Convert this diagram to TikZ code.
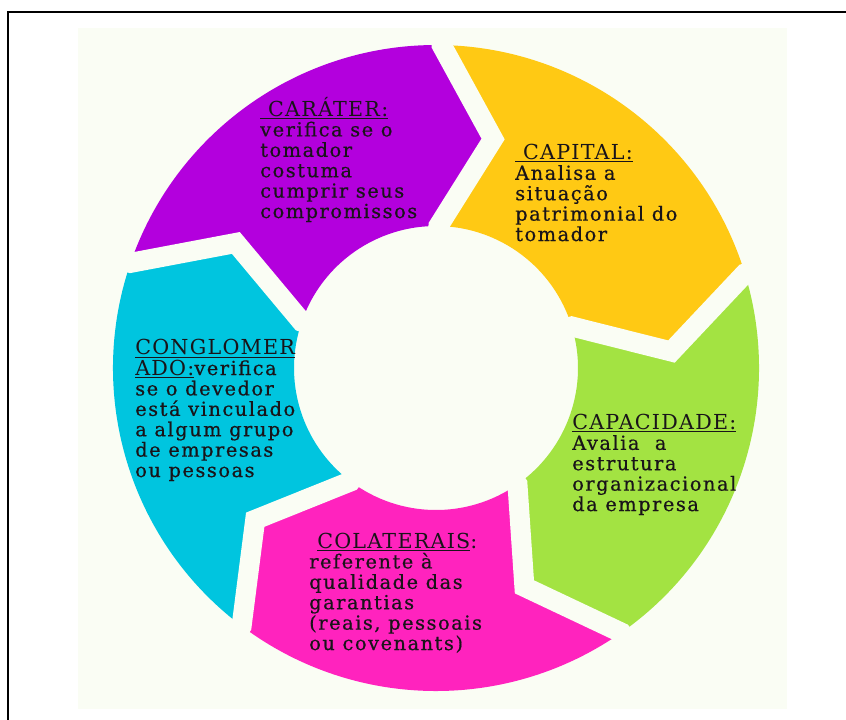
\documentclass[tikz,border=0pt]{standalone}
\usepackage{fontspec}
\usepackage{tikz}

\newfontfamily\bodyfont{DejaVu Serif}[LetterSpace=8, FakeBold=0.6]
\newfontfamily\headfont{DejaVu Serif}[LetterSpace=6]

\definecolor{bgcol}{RGB}{250,253,244}
\definecolor{purplec}{RGB}{179,0,221}
\definecolor{yellowc}{RGB}{255,201,20}
\definecolor{greenc}{RGB}{163,227,66}
\definecolor{pinkc}{RGB}{255,35,190}
\definecolor{cyanc}{RGB}{0,197,223}
\definecolor{txtcol}{RGB}{25,20,25}

% naslov bloka (podcrtan)
\newcommand{\hd}[1]{{\headfont\fontsize{15.5}{15.3}\selectfont\underline{#1}}}

\tikzset{
  gapline/.style={draw=bgcol, line width=15pt, line join=miter},
  label/.style={anchor=base west, align=left, inner sep=0pt, text=txtcol,
    font=\bodyfont\fontsize{14.5}{15.3}\selectfont},
}

\begin{document}
\begin{tikzpicture}[x=0.75pt, y=-0.75pt]
        % Varijable prstena
        \def\outR{323} % vanjski radijus
        \def\innR{142} % unutarnji radijus
        \def\tipR{236} % radijus vrha strelice
        \def\tipShift{13} % pomak vrha strelice (u stupnjevima)

        \useasboundingbox (0,0) rectangle (846,719);

        % Okvir i podloga
        \draw[line width=1.5pt] (8,725) -- (8,12) -- (850,12);
        \fill[bgcol] (78,28) rectangle (787,709);

        % Prsten od pet strelica
        \begin{scope}[shift={(436,368)}, yscale=-1]
            \foreach \col [count=\i from 0] in {purplec, yellowc, greenc, pinkc, cyanc} {
                \pgfmathsetmacro\a{161-72*\i}
                \pgfmathsetmacro\b{89-72*\i}
                \fill[\col] (\a:\outR) arc[start angle=\a, end angle=\b, radius=\outR]
                    -- (\b-\tipShift:\tipR) -- (\b:\innR)
                    arc[start angle=\b, end angle=\a, radius=\innR]
                    -- (\a-\tipShift:\tipR) -- cycle;
            }
            % Razmaci izmedju strelica
            \foreach \b in {89, 17, -55, -127, -199} {
                \draw[gapline] (\b:\outR+12) -- (\b:\outR) -- (\b-\tipShift:\tipR)
                    -- (\b:\innR) -- (\b:\innR-12);
            }
        \end{scope}

        % Tekstovi (sidro je osnovna linija zadnjeg retka)
        \node[label] (carater) at (260,218) {\hd{\ CARÁTER:}\\ verifica se o\\ tomador\\ costuma\\ cumprir seus\\ compromissos};
        \node[label] (capital) at (515,241) {\hd{\ CAPITAL:}\\ Analisa a\\ situação\\ patrimonial do\\ tomador};
        \node[label] (capacidade) at (572,511) {\hd{CAPACIDADE:}\\ Avalia\ \ a\\ estrutura\\ organizacional\\ da empresa};
        \node[label] (colaterais) at (309,650) {\hspace*{6pt}\hd{COLATERAIS}{\headfont\fontsize{15.5}{15.3}\selectfont:}\\ referente à\\ qualidade das\\ garantias\\ (reais, pessoais\\ ou covenants)};
        \node[label] (conglomerado) at (135,477) {\hd{CONGLOMER}\\ \hd{ADO:}verifica\\ se o devedor\\ está vinculado\\ a algum grupo\\ de empresas\\ ou pessoas};

    \end{tikzpicture}
\end{document}
